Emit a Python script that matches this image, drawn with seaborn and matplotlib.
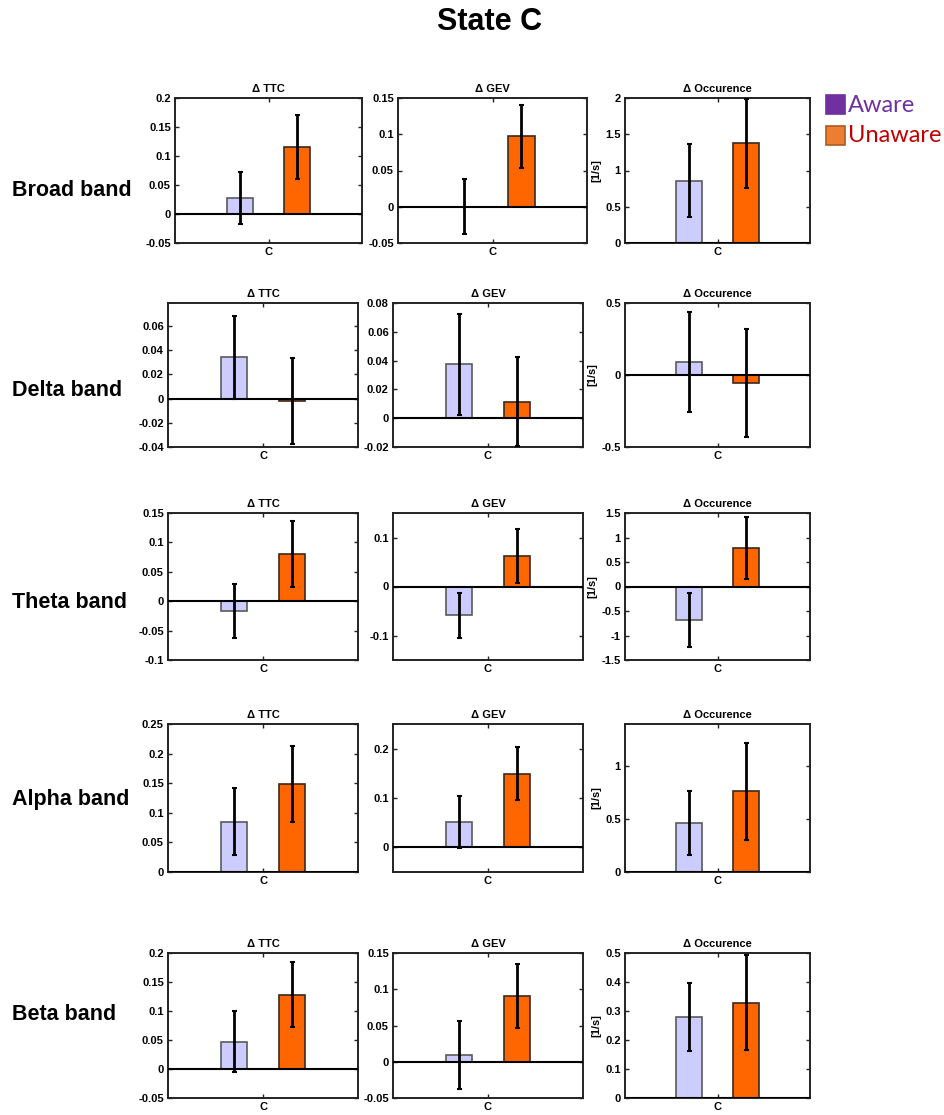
import matplotlib
matplotlib.use("Agg")
import matplotlib.pyplot as plt
from matplotlib.patches import Rectangle
from matplotlib.ticker import FixedLocator, FuncFormatter
import numpy as np
import pandas as pd
import seaborn as sns

# ---- data -------------------------------------------------------------
bands = ["Broad band", "Delta band", "Theta band", "Alpha band", "Beta band"]
measures = ["\u0394 TTC", "\u0394 GEV", "\u0394 Occurence"]
groups = ["Aware", "Unaware"]
condition = "C"

ttc_aware = [0.028, 0.034, -0.0165, 0.085, 0.047]
ttc_aware_err = [0.0445, 0.034, 0.0457, 0.057, 0.053]
ttc_unaware = [0.116, -0.002, 0.080, 0.148, 0.128]
ttc_unaware_err = [0.055, 0.0357, 0.0566, 0.064, 0.056]

gev_aware = [0.0, 0.0374, -0.059, 0.051, 0.0096]
gev_aware_err = [0.038, 0.035, 0.046, 0.053, 0.047]
gev_unaware = [0.097, 0.0115, 0.062, 0.149, 0.091]
gev_unaware_err = [0.044, 0.031, 0.055, 0.054, 0.044]

occ_aware = [0.858, 0.09, -0.69, 0.467, 0.28]
occ_aware_err = [0.506, 0.348, 0.553, 0.302, 0.118]
occ_unaware = [1.373, -0.056, 0.78, 0.762, 0.328]
occ_unaware_err = [0.617, 0.375, 0.63, 0.462, 0.164]

# axis limits and tick values for each (band, measure) panel
ttc_ylims = [(-0.05, 0.2), (-0.04, 0.079), (-0.1, 0.15), (0, 0.25), (-0.05, 0.2)]
ttc_ticks = [np.arange(-0.05, 0.201, 0.05), np.arange(-0.04, 0.061, 0.02),
             np.arange(-0.1, 0.151, 0.05), np.arange(0, 0.251, 0.05),
             np.arange(-0.05, 0.201, 0.05)]
gev_ylims = [(-0.05, 0.15), (-0.02, 0.08), (-0.15, 0.15), (-0.05, 0.25), (-0.05, 0.15)]
gev_ticks = [np.arange(-0.05, 0.151, 0.05), np.arange(-0.02, 0.081, 0.02),
             [-0.1, 0, 0.1], [0, 0.1, 0.2], np.arange(-0.05, 0.151, 0.05)]
occ_ylims = [(0, 2), (-0.5, 0.5), (-1.5, 1.5), (0, 1.4), (0, 0.5)]
occ_ticks = [np.arange(0, 2.01, 0.5), [-0.5, 0, 0.5], np.arange(-1.5, 1.51, 0.5),
             [0, 0.5, 1], np.arange(0, 0.51, 0.1)]

# ---- style ------------------------------------------------------------
sns.set_style("white")
plt.rcParams["font.family"] = ["Liberation Sans", "DejaVu Sans"]
plt.rcParams["font.weight"] = "bold"
plt.rcParams["text.color"] = "black"
plt.rcParams["axes.labelcolor"] = "black"
plt.rcParams["xtick.color"] = "black"
plt.rcParams["ytick.color"] = "black"

bar_colors = ["#CCCCFF", "#FF6600"]
bar_edges = ["#5A5A5A", "#3A2A20"]

W, H = 944, 1115
fig = plt.figure(figsize=(W / 100, H / 100), dpi=100)


def rect(left, top, width, height):
    return [left / W, 1 - (top + height) / H, width / W, height / H]


row_tops = [98, 303, 513, 724, 953]
row_bottoms = [243, 447, 660, 872, 1098]
col_lefts = [[175, 398, 625]] + [[168, 393, 625]] * 4
col_widths = [[187, 189, 185]] + [[190, 190, 185]] * 4
row_label_y = [190, 390, 602, 800, 1015]

means = [(ttc_aware, ttc_unaware), (gev_aware, gev_unaware), (occ_aware, occ_unaware)]
errs = [(ttc_aware_err, ttc_unaware_err), (gev_aware_err, gev_unaware_err),
        (occ_aware_err, occ_unaware_err)]
ylims = [ttc_ylims, gev_ylims, occ_ylims]
yticks = [ttc_ticks, gev_ticks, occ_ticks]


def fmt(v, _):
    v = round(v, 6)
    if v == 0:
        return "0"
    return f"{v:g}"


for r, band in enumerate(bands):
    top = row_tops[r]
    h = row_bottoms[r] - top
    for c, measure in enumerate(measures):
        ax = fig.add_axes(rect(col_lefts[r][c], top, col_widths[r][c], h))
        a_vals, u_vals = means[c]
        a_errs, u_errs = errs[c]
        df = pd.DataFrame({
            "cond": [condition, condition],
            "group": groups,
            "value": [a_vals[r], u_vals[r]],
        })
        sns.barplot(data=df, x="cond", y="value", hue="group", hue_order=groups,
                    palette=bar_colors, saturation=1, width=0.612, gap=0.54,
                    errorbar=None, linewidth=1.2, legend=False, ax=ax, zorder=2)
        bars = [p for p in ax.patches if isinstance(p, Rectangle)]
        for p, ec in zip(bars, bar_edges):
            p.set_edgecolor(ec)
        ax.axhline(0, color="black", lw=1.5, zorder=3)
        for p, val, e in zip(bars, [a_vals[r], u_vals[r]], [a_errs[r], u_errs[r]]):
            xc = p.get_x() + p.get_width() / 2
            ax.errorbar(xc, val, yerr=e, fmt="none", ecolor="black",
                        elinewidth=2, capsize=1.8, capthick=1.5, zorder=4)
        ax.set_xlim(-0.5, 0.5)
        ax.set_ylim(*ylims[c][r])
        ax.yaxis.set_major_locator(FixedLocator(list(yticks[c][r])))
        ax.yaxis.set_major_formatter(FuncFormatter(fmt))
        ax.set_xlabel("")
        ax.set_ylabel("[1/s]" if c == 2 else "", fontsize=8, fontweight="bold",
                      labelpad=3)
        ax.set_title(measure, fontsize=8, fontweight="bold", pad=4)
        ax.tick_params(direction="in", length=3, width=1, left=True, bottom=True,
                       top=True, right=True, labelsize=8, pad=3, color="#222222")
        for lab in ax.get_xticklabels() + ax.get_yticklabels():
            lab.set_fontweight("bold")
        for sp in ax.spines.values():
            sp.set_linewidth(1.4)
            sp.set_color("#222222")
            sp.set_visible(True)
    fig.text(12 / W, 1 - row_label_y[r] / H, band, fontsize=15.5, fontweight="bold",
             ha="left", va="center")

fig.text(490 / W, 1 - 22 / H, "State C", fontsize=22, fontweight="bold",
         ha="center", va="center")

# legend
legend_items = [("Aware", "#7030A0", "#7030A0", "#7030A0", 95),
                ("Unaware", "#ED7D31", "#AE5A21", "#C00000", 126)]
for label, face, edge, tcol, ytop in legend_items:
    fig.patches.append(Rectangle((826 / W, 1 - (ytop + 19) / H), 19 / W, 19 / H,
                                 transform=fig.transFigure, facecolor=face,
                                 edgecolor=edge, linewidth=1.2))
    fig.text(848 / W, 1 - (ytop + 10) / H, label, fontsize=17, fontweight="normal",
             family=["Lato", "DejaVu Sans"], color=tcol, ha="left", va="center")

fig.savefig("out.png", dpi=100)
